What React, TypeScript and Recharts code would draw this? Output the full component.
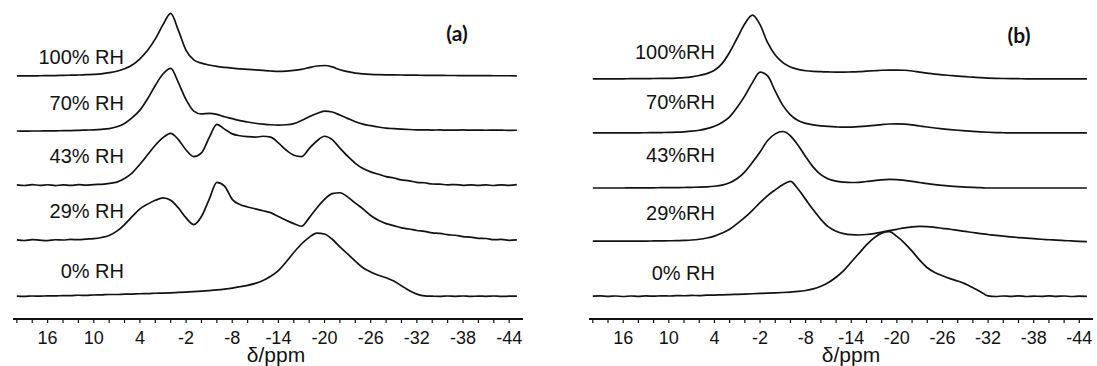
import { Line, LineChart, XAxis, YAxis } from "recharts";

// chemical shift grid (ppm), one point per ppm
const ppm = [
  20, 19, 18, 17, 16, 15, 14, 13, 12, 11,
  10, 9, 8, 7, 6, 5, 4, 3, 2, 1,
  0, -1, -2, -3, -4, -5, -6, -7, -8, -9,
  -10, -11, -12, -13, -14, -15, -16, -17, -18, -19,
  -20, -21, -22, -23, -24, -25, -26, -27, -28, -29,
  -30, -31, -32, -33, -34, -35, -36, -37, -38, -39,
  -40, -41, -42, -43, -44, -45,
];

// panel (a) spectra, intensity above each trace's baseline
const a100 = [
  -1, -1, -1, -0.8, -0.7, -0.6, -0.4, -0.2, 0, 0.3,
  0.6, 1.2, 2.5, 4, 6.5, 10.5, 17, 26, 38, 53,
  65, 47, 26, 16, 12.5, 10.5, 9, 8, 7.2, 6.5,
  6, 5.4, 4.8, 4.2, 3.8, 4, 4.8, 6, 7.8, 9.5,
  10, 8.5, 5.5, 3.5, 2, 1.2, 0.7, 0.4, 0.2, 0.1,
  0, -0.1, -0.2, -0.3, -0.3, -0.4, -0.5, -0.5, -0.6, -0.6,
  -0.7, -0.7, -0.8, -0.8, -0.8, -0.9,
];
const a70 = [
  -1, -1.2, -1, -1, -0.8, -0.8, -0.6, -0.5, -0.3, 0,
  0.3, 0.8, 1.5, 3.5, 7, 13, 21, 33, 47, 59,
  65, 50, 32, 20, 17, 17.5, 16.5, 14, 12, 10,
  8.5, 7.2, 6.3, 5.6, 5.3, 5.6, 6.8, 10, 14, 17.5,
  20, 19, 15.8, 12.3, 8.8, 6.3, 4.6, 3.2, 2.1, 1.5,
  1, 0.6, 0.3, 0.2, 0, 0.1, -0.1, 0, 0.1, -0.1,
  0, -0.2, 0, -0.1, -0.3, -0.2,
];
const a43 = [
  0.3, -0.4, 0.5, -0.2, 0.4, -0.5, 0.2, -0.3, 0.5, 0,
  0.6, 0.8, 1.8, 3.2, 7, 13, 22, 32, 42, 50,
  54.5, 48, 37, 30, 34, 50, 64, 59, 54, 52,
  51, 50.5, 51.5, 50.5, 44.5, 37, 31.5, 30, 38.5, 46.5,
  51.5, 48, 39, 30.5, 23, 17.5, 14, 11.5, 9, 7.5,
  5.5, 4.5, 3, 2.5, 1.2, 1, 0.3, 0.6, -0.2, 0.3,
  -0.3, 0.2, -0.4, 0.3, -0.2, 0.6,
];
const a29 = [
  0.4, -0.3, 0.6, 0, -0.4, 0.5, 0.2, 0.8, 0.6, 1.2,
  1.6, 2.8, 5, 9.5, 16.5, 25, 33, 38, 42, 44.6,
  42, 34, 23.5, 16.5, 25, 43, 61, 57, 43, 37.5,
  35, 33, 31, 29, 25, 21, 17.5, 14.7, 23.5, 34,
  43, 49, 50, 45.6, 39, 33, 26, 21, 17.5, 15.4,
  13, 11.8, 10.2, 9.3, 7.8, 7.2, 5.8, 5.2, 3.8, 3.2,
  2, 1.8, 0.6, 0.8, -0.2, 0.3,
];
const a0 = [
  0, -0.2, 0.2, 0.1, 0.4, 0.3, 0.7, 0.6, 1, 0.9,
  1.3, 1.4, 1.8, 1.8, 2.2, 2.3, 2.6, 2.7, 3.1, 3.3,
  3.6, 4, 4.4, 4.8, 5.3, 5.9, 6.6, 7.5, 8.6, 10,
  11.5, 13.5, 16.5, 21, 27, 36, 46, 55, 62, 66.5,
  65.5, 60, 52, 44.5, 37, 30, 25.5, 22, 19.5, 16,
  11, 6, 2.2, 0.3, 0, -0.2, 0.2, -0.1, 0.2, -0.2,
  0.1, -0.1, 0.2, -0.2, 0, 0.1,
];

// panel (b) spectra
const b100 = [
  0, 0, 0, 0, 0, 0.1, 0.1, 0.2, 0.3, 0.4,
  0.5, 0.8, 1.2, 2, 3.5, 5.5, 9, 16, 28, 43,
  58, 67, 57, 38, 25, 17, 12.5, 10, 8.5, 7.8,
  7.5, 7.2, 7, 7, 7.2, 7.5, 8, 8.5, 9, 9.2,
  9.2, 9, 8.2, 7, 6, 5, 4.2, 3.5, 2.8, 2.2,
  1.7, 1.2, 0.8, 0.5, 0.3, 0.2, 0.1, 0, 0, 0,
  0, 0, 0, 0, 0, 0,
];
const b70 = [
  0, 0, 0, 0, 0, 0.1, 0.1, 0.2, 0.3, 0.4,
  0.5, 0.8, 1.2, 1.8, 2.8, 4.5, 7, 11, 17, 27,
  39, 53, 64, 60, 44, 29, 19, 13, 10, 8.5,
  7.5, 6.8, 6.3, 6, 6.2, 6.6, 7.2, 8, 8.8, 9.4,
  9.5, 9.2, 8.4, 7.3, 6.2, 5.2, 4.3, 3.5, 2.8, 2.2,
  1.6, 1.1, 0.7, 0.4, 0.2, 0, 0, 0, 0, 0,
  0, 0, 0, 0, 0, 0,
];
const b43 = [
  0, 0, 0, 0, 0, 0.1, 0.1, 0.2, 0.2, 0.3,
  0.3, 0.4, 0.5, 0.7, 0.9, 1.2, 1.8, 3, 5.5, 10,
  17, 27, 38, 50, 57, 59.5, 55, 45, 33, 22,
  14, 9.5, 7.2, 6.2, 5.8, 6, 6.8, 7.8, 8.6, 9,
  8.8, 8, 7, 5.8, 4.6, 3.6, 2.8, 2, 1.4, 1,
  0.6, 0.3, 0, 0, 0, 0, 0, 0, 0, 0,
  0, 0, 0, 0, 0, 0,
];
const b29 = [
  0, 0, 0, 0, 0, 0, 0.1, 0.1, 0.2, 0.3,
  0.4, 0.5, 0.8, 1.2, 2, 3.3, 5.3, 8.5, 12.5, 18.5,
  25, 32.5, 40.5, 48, 54, 59.5, 63, 55, 44, 33,
  23, 15, 10.5, 8, 6.8, 6.5, 7, 8, 9.5, 11,
  12.5, 14, 15, 15.5, 15.3, 14.5, 13.5, 12.5, 11.3, 10.2,
  9.1, 8, 7, 6, 5.2, 4.5, 3.8, 3.2, 2.6, 2,
  1.5, 1, 0.6, 0.2, -0.2, -0.5,
];
const b0 = [
  0, 0.3, -0.2, 0.2, -0.3, 0.2, -0.2, 0.3, 0, 0.4,
  0.2, 0.6, 0.5, 0.8, 0.7, 1.1, 1.2, 1.5, 1.7, 2,
  2.3, 2.6, 2.9, 3.2, 3.5, 3.9, 4.4, 5, 6, 7.7,
  10.5, 14.5, 20, 27, 36, 45, 54, 61.5, 66.5, 68,
  63, 56, 47.5, 38, 30, 25, 21.5, 18.5, 16, 13,
  9, 4.8, 0.3, -0.3, 0.2, -0.2, 0.3, -0.3, 0.1, -0.2,
  0.3, -0.1, 0.2, -0.3, 0.1, -0.2,
];

// vertical stacking offsets of each trace
const offsetsA = [257, 199, 141, 83, 24];
const offsetsB = [253, 196, 138, 82, 24];

const seriesKeys = ["rh100", "rh70", "rh43", "rh29", "rh0"];
const labelsA = ["100% RH", "70% RH", "43% RH", "29% RH", "0% RH"];
const labelsB = ["100%RH", "70%RH", "43%RH", "29%RH", "0% RH"];

const ticks = [
  20, 18, 16, 14, 12, 10, 8, 6, 4, 2, 0, -2, -4, -6, -8, -10, -12,
  -14, -16, -18, -20, -22, -24, -26, -28, -30, -32, -34, -36, -38, -40, -42, -44,
];
const tickLabels = [16, 10, 4, -2, -8, -14, -20, -26, -32, -38, -44];

const font = '"Liberation Sans", Arial, sans-serif';
const ink = "#121212";

function buildRows(series: number[][], offsets: number[]) {
  return ppm.map((p, i) => {
    const row: Record<string, number> = { ppm: p };
    series.forEach((s, k) => {
      row[seriesKeys[k]] = s[i] + offsets[k];
    });
    return row;
  });
}

const rowsA = buildRows([a100, a70, a43, a29, a0], offsetsA);
const rowsB = buildRows([b100, b70, b43, b29, b0], offsetsB);

function Panel({
  rows,
  left,
  width,
  marginLeft,
  marginRight,
  labelDx,
}: {
  rows: Record<string, number>[];
  left: number;
  width: number;
  marginLeft: number;
  marginRight: number;
  labelDx: number;
}) {
  return (
    <div style={{ position: "absolute", left, top: 0 }}>
      <LineChart
        width={width}
        height={366}
        data={rows}
        margin={{ top: 0, right: marginRight, bottom: 0, left: marginLeft }}
      >
        <XAxis
          dataKey="ppm"
          type="number"
          domain={[-45.8, 20.5]}
          reversed
          allowDataOverflow
          ticks={ticks}
          interval={0}
          height={47}
          tickSize={4}
          tickMargin={8}
          tickFormatter={(v: number) => (tickLabels.includes(v) ? String(v) : "")}
          tick={{ fontSize: 18, fill: ink, fontFamily: font }}
          axisLine={{ stroke: ink, strokeWidth: 2 }}
          tickLine={{ stroke: ink, strokeWidth: 1.2 }}
          label={{
            value: "δ/ppm",
            position: "insideBottom",
            offset: 4,
            dx: labelDx,
            fontSize: 21,
            fill: ink,
            fontFamily: font,
          }}
        />
        <YAxis
          hide
          type="number"
          domain={[0, 336]}
          allowDataOverflow
        />
        {seriesKeys.map((k) => (
          <Line
            key={k}
            dataKey={k}
            type="monotone"
            stroke={ink}
            strokeWidth={1.7}
            dot={false}
            activeDot={false}
            isAnimationActive={false}
          />
        ))}
      </LineChart>
    </div>
  );
}

function TraceLabels({ labels, right, ys }: { labels: string[]; right: number; ys: number[] }) {
  return (
    <>
      {labels.map((text, i) => (
        <div
          key={text}
          style={{
            position: "absolute",
            left: right - 200,
            width: 200,
            top: ys[i] - 11,
            textAlign: "right",
            fontSize: 20,
            lineHeight: "22px",
            fontFamily: font,
            color: ink,
            whiteSpace: "nowrap",
          }}
        >
          {text}
        </div>
      ))}
    </>
  );
}

function PanelTag({ text, x, y }: { text: string; x: number; y: number }) {
  return (
    <div
      style={{
        position: "absolute",
        left: x - 30,
        width: 60,
        top: y - 13,
        textAlign: "center",
        fontSize: 21,
        lineHeight: "26px",
        fontWeight: 700,
        fontFamily: "Lato, 'Open Sans', sans-serif",
        color: ink,
      }}
    >
      {text}
    </div>
  );
}

export default function App() {
  return (
    <div
      style={{
        position: "absolute",
        left: 0,
        top: 0,
        width: 1097,
        height: 366,
        background: "#fff",
        overflow: "hidden",
      }}
    >
      <Panel rows={rowsA} left={0} width={540} marginLeft={13} marginRight={17} labelDx={8} />
      <Panel rows={rowsB} left={560} width={537} marginLeft={29} marginRight={4} labelDx={10} />
      <TraceLabels labels={labelsA} right={124} ys={[57, 103, 156, 211, 271]} />
      <TraceLabels labels={labelsB} right={715} ys={[52, 102, 155, 213, 273]} />
      <PanelTag text="(a)" x={457} y={33} />
      <PanelTag text="(b)" x={1019} y={35} />
    </div>
  );
}
